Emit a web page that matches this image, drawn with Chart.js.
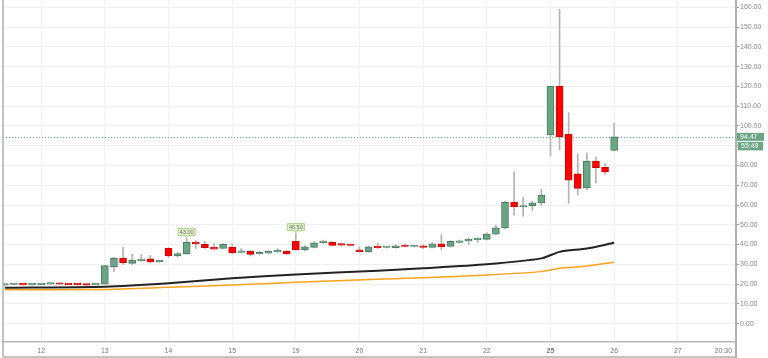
<!DOCTYPE html>
<html>
<head>
<meta charset="utf-8">
<script src="https://cdn.jsdelivr.net/npm/chart.js@4.4.0/dist/chart.umd.min.js"></script>
<style>
  html, body { margin: 0; padding: 0; background: #fff; }
  canvas { display: block; }
</style>
</head>
<body>
<canvas id="chart" width="768" height="358"></canvas>
<script>
// candles, one per slot (7 slots per day)
const opens  = [19.5, 19.8, 19.9, 19.6, 19.7, 20.0, 20.1, 20.0, 19.8, 19.7, 19.6,
  20.0, 28.8, 33.0, 30.5, 31.8, 32.8, 31.3, 38.1, 34.2, 35.4, 41.3, 40.1, 38.6, 38.1,
  38.6, 36.0, 36.6, 35.2, 35.6, 36.3, 36.7, 41.6, 37.4, 38.6, 41.0, 41.1, 40.1, 40.0,
  37.3, 36.4, 38.9, 38.5, 38.4, 39.3, 39.0, 39.4, 38.6, 40.3, 39.1, 41.1, 41.8, 42.5,
  42.6, 45.3, 48.4, 61.4, 59.0, 59.6, 61.0, 95.4, 120.0, 95.7, 75.8, 68.7, 82.2, 79.1, 87.6];
const highs  = [19.9, 20.3, 20.0, 19.9, 20.2, 20.2, 20.2, 20.1, 19.9, 19.8, 19.8,
  29.5, 33.5, 38.6, 35.0, 34.9, 34.5, 32.0, 38.5, 36.2, 43.0, 42.0, 41.6, 40.3, 40.5,
  40.3, 38.0, 37.0, 36.5, 37.0, 38.0, 37.0, 45.5, 39.5, 41.5, 42.3, 41.5, 40.5, 40.2,
  38.9, 39.3, 40.6, 39.0, 39.8, 40.3, 39.5, 39.8, 41.0, 45.0, 42.0, 42.3, 43.3, 43.5,
  46.0, 49.7, 62.0, 76.5, 64.0, 62.0, 68.0, 120.0, 159.0, 106.7, 85.8, 86.4, 84.4, 81.0, 101.5];
const lows   = [19.4, 19.7, 19.5, 19.5, 19.6, 19.9, 19.8, 19.6, 19.5, 19.4, 19.5,
  19.9, 26.3, 30.0, 29.8, 31.5, 30.8, 31.0, 33.5, 33.8, 35.0, 38.0, 38.0, 37.5, 38.0,
  35.2, 35.8, 34.2, 35.0, 35.3, 36.0, 35.0, 37.0, 36.7, 38.3, 40.6, 39.3, 39.3, 39.2,
  36.2, 36.0, 38.0, 38.2, 38.2, 38.8, 38.8, 37.9, 38.3, 37.2, 39.0, 40.8, 40.1, 41.0,
  42.3, 45.0, 48.0, 54.9, 54.3, 57.2, 59.7, 84.8, 87.8, 60.8, 65.0, 67.6, 71.0, 75.5, 87.3];
const closes = [19.8, 19.9, 19.6, 19.8, 20.0, 20.1, 19.9, 19.7, 19.6, 19.5, 19.7,
  29.3, 33.0, 30.8, 32.2, 32.7, 31.2, 31.6, 34.3, 35.4, 41.1, 40.3, 38.4, 37.7, 40.1,
  35.9, 36.3, 35.0, 36.0, 36.7, 36.5, 35.2, 37.4, 38.9, 40.9, 41.3, 39.6, 39.7, 39.5,
  36.4, 38.9, 38.4, 38.7, 39.4, 39.0, 39.2, 38.6, 40.4, 38.9, 41.6, 41.9, 42.8, 43.2,
  45.3, 48.5, 61.4, 59.1, 59.3, 61.1, 65.0, 120.0, 94.6, 72.6, 68.4, 82.1, 78.9, 76.7, 94.47];

// moving averages read at a few slots
const maIdx    = [0, 11, 18, 25, 32, 41, 46, 53, 59, 61, 64, 67];
const maBlack  = [18.2, 18.7, 20.4, 22.9, 24.9, 26.8, 28.0, 30.0, 33.0, 36.3, 38.0, 40.9];
const maOrange = [17.1, 17.3, 18.4, 19.5, 20.9, 22.4, 23.2, 24.6, 26.3, 28.0, 29.2, 31.0];

// axes
const xTickIdx    = [4, 11, 18, 25, 32, 39, 46, 53, 60, 67, 74, 79];
const xTickLabels = ['12', '13', '14', '15', '19', '20', '21', '22', '25', '26', '27', '20:30'];
const yTicks = [0, 10, 20, 30, 40, 50, 60, 70, 80, 90, 100, 110, 120, 130, 140, 150, 160];

// high markers and last price
const markIdx = [20, 32];
const markLabels = ['43.00', '45.50'];
const countdown = '55:49';

const UP = '#6ba583', DOWN = '#ff0000';
const FONT = "'Liberation Sans', Arial, sans-serif";

const bodyColors = opens.map((o, i) => closes[i] >= o ? UP : DOWN);
const bodyBorders = opens.map((o, i) => closes[i] >= o ? '#4b7d60' : '#d00000');

const decor = {
  id: 'decor',
  beforeDatasetsDraw(chart) {
    const { ctx, chartArea, scales } = chart;
    const py = Math.round(scales.y.getPixelForValue(closes[closes.length - 1])) + 0.5;
    ctx.save();
    ctx.strokeStyle = UP;
    ctx.lineWidth = 1;
    ctx.setLineDash([1, 2]);
    ctx.beginPath();
    ctx.moveTo(chartArea.left, py);
    ctx.lineTo(chartArea.right, py);
    ctx.stroke();
    ctx.restore();
  },
  afterDraw(chart) {
    const { ctx, chartArea, scales } = chart;
    const x = scales.x, y = scales.y;
    ctx.save();

    // frame
    ctx.strokeStyle = '#b0b0b0';
    ctx.lineWidth = 1.5;
    ctx.beginPath();
    ctx.moveTo(3, 0); ctx.lineTo(3, 357);
    ctx.moveTo(3, 357); ctx.lineTo(chartArea.right, 357);
    ctx.stroke();
    ctx.lineWidth = 2;
    ctx.beginPath();
    ctx.moveTo(chartArea.right, chartArea.bottom); ctx.lineTo(chartArea.right, 358);
    ctx.stroke();

    // high markers
    markIdx.forEach((idx, k) => {
      const px = x.getPixelForValue(idx);
      const py = y.getPixelForValue(highs[idx]);
      const w = 17, h = 7, bottom = py - 3;
      ctx.fillStyle = '#e2f2cd';
      ctx.strokeStyle = '#a8d08a';
      ctx.lineWidth = 1;
      ctx.beginPath();
      ctx.rect(px - w / 2, bottom - h, w, h);
      ctx.fill();
      ctx.stroke();
      ctx.beginPath();
      ctx.moveTo(px - 2, bottom);
      ctx.lineTo(px, bottom + 2);
      ctx.lineTo(px + 2, bottom);
      ctx.fill();
      ctx.stroke();
      ctx.fillStyle = '#666';
      ctx.font = '5.5px ' + FONT;
      ctx.textAlign = 'center';
      ctx.textBaseline = 'middle';
      ctx.fillText(markLabels[k], px, bottom - h / 2);
    });

    // last price and countdown
    const last = closes[closes.length - 1];
    const py = y.getPixelForValue(last);
    ctx.fillStyle = UP;
    ctx.fillRect(chartArea.right + 1, py - 4, 27, 8);
    ctx.fillRect(chartArea.right + 2, py + 5, 25, 8.5);
    ctx.fillStyle = '#fff';
    ctx.font = '7px ' + FONT;
    ctx.textAlign = 'left';
    ctx.textBaseline = 'middle';
    ctx.fillText(last.toFixed(2), chartArea.right + 4, py);
    ctx.fillText(countdown, chartArea.right + 5, py + 9.5);
    ctx.restore();
  }
};

new Chart(document.getElementById('chart'), {
  type: 'bar',
  data: {
    datasets: [
      {
        type: 'line',
        data: maIdx.map((v, i) => ({ x: v, y: maBlack[i] })),
        borderColor: '#222222',
        borderWidth: 2,
        pointRadius: 0,
        tension: 0.25,
        order: 1
      },
      {
        type: 'line',
        data: maIdx.map((v, i) => ({ x: v, y: maOrange[i] })),
        borderColor: '#ffa31a',
        borderWidth: 1.5,
        pointRadius: 0,
        tension: 0.25,
        order: 1
      },
      {
        data: lows.map((l, i) => ({ x: i, y: [l, highs[i]] })),
        backgroundColor: '#b3b3b3',
        barThickness: 1,
        grouped: false,
        order: 3
      },
      {
        data: opens.map((o, i) => ({ x: i, y: [o, closes[i]] })),
        backgroundColor: bodyColors,
        borderColor: bodyBorders,
        borderWidth: 1,
        borderSkipped: false,
        barThickness: 7,
        minBarLength: 1.5,
        grouped: false,
        order: 2
      }
    ]
  },
  options: {
    responsive: false,
    devicePixelRatio: 1,
    animation: false,
    layout: { padding: { left: 3, right: 0, top: 0, bottom: 0 } },
    plugins: {
      legend: { display: false },
      tooltip: { enabled: false }
    },
    scales: {
      x: {
        type: 'linear',
        min: -0.2,
        max: 80.4,
        offset: false,
        afterBuildTicks: (scale) => { scale.ticks = xTickIdx.map(v => ({ value: v })); },
        afterFit: (scale) => { scale.height = 16; },
        grid: {
          offset: false,
          drawTicks: false,
          color: (ctx) => ctx.tick && ctx.tick.value === 79 ? 'transparent' : '#f2f2f2'
        },
        border: { color: '#b8b8b8', width: 1.5 },
        ticks: {
          autoSkip: false,
          maxRotation: 0,
          padding: 5,
          color: '#777',
          font: (ctx) => ({ family: FONT, size: 7, weight: ctx.tick && ctx.tick.value === 60 ? 'bold' : 'normal' }),
          callback: (v) => {
            const k = xTickIdx.indexOf(v);
            return k >= 0 ? xTickLabels[k] : '';
          }
        }
      },
      y: {
        position: 'right',
        min: -9.3,
        max: 163.7,
        afterBuildTicks: (scale) => { scale.ticks = yTicks.map(v => ({ value: v })); },
        afterFit: (scale) => {
          scale.width = 32;
          scale.paddingTop = 0;
          scale.paddingBottom = 0;
        },
        grid: { color: '#f0f0f0', tickLength: 3, tickColor: '#999' },
        border: { color: '#b0b0b0', width: 2 },
        ticks: {
          padding: 1,
          color: '#888',
          font: { family: FONT, size: 7 },
          callback: (v) => v.toFixed(2)
        }
      }
    }
  },
  plugins: [decor]
});
</script>
</body>
</html>
